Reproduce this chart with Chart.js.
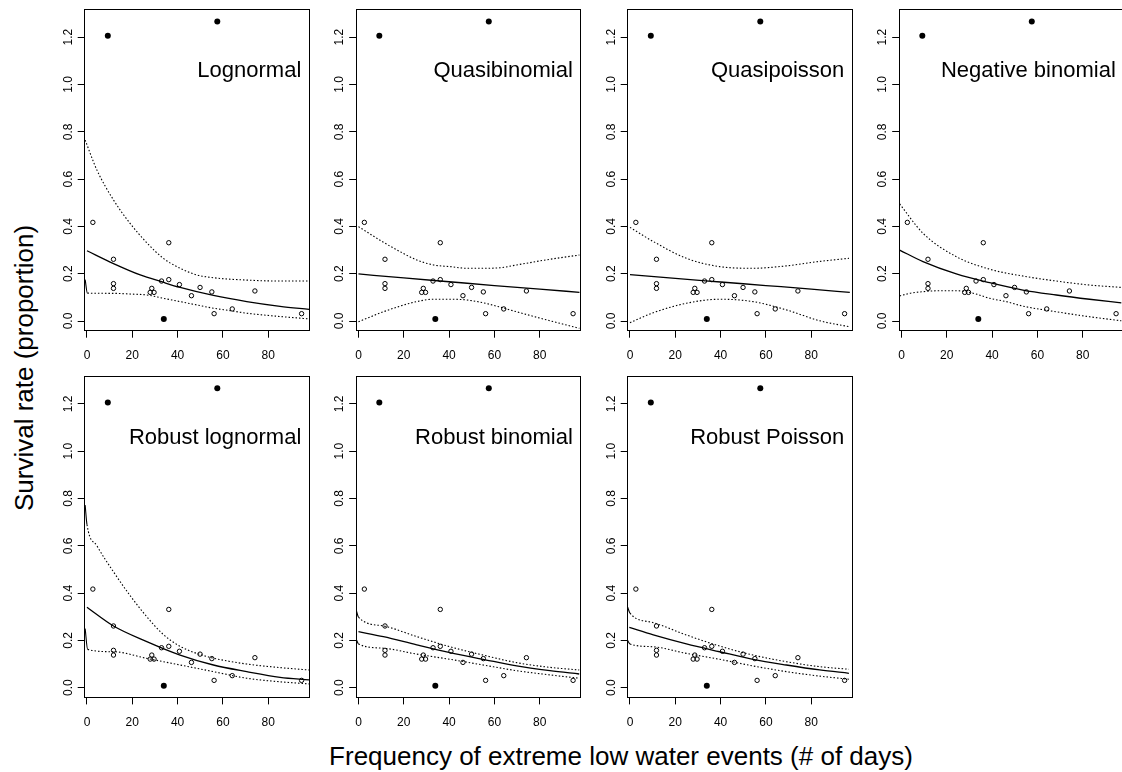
<!DOCTYPE html>
<html>
<head>
<meta charset="utf-8">
<title>Survival rate vs frequency of extreme low water events</title>
<script src="https://cdn.jsdelivr.net/npm/chart.js@4.4.1/dist/chart.umd.min.js"></script>
<style>
  html, body { margin: 0; padding: 0; background: #fff; }
  body { width: 1122px; height: 772px; overflow: hidden; position: relative;
         font-family: "Liberation Sans", Arial, sans-serif; color: #000; }
  canvas { position: absolute; }
  .axis-title { position: absolute; white-space: nowrap; font-size: 26px; line-height: 30px; }
  #xTitle { left: 621px; top: 741px; transform: translateX(-50%); }
  #yTitle { left: 24px; top: 368px; transform: translate(-50%, -50%) rotate(-90deg); }
</style>
</head>
<body>
<div id="xTitle" class="axis-title">Frequency of extreme low water events (# of days)</div>
<div id="yTitle" class="axis-title">Survival rate (proportion)</div>
<script>
// ---- observations (shared by every panel) ----
const obsDays     = [2.6, 11.7, 11.7, 11.7, 27.9, 28.6, 29.6, 32.9, 36.1, 36.1, 40.8, 46.1, 49.9, 55.1, 56.1, 64.1, 74.1, 94.7];
const obsSurvival = [0.417, 0.261, 0.158, 0.138, 0.121, 0.138, 0.121, 0.169, 0.331, 0.175, 0.154, 0.107, 0.142, 0.123, 0.031, 0.051, 0.127, 0.031];
const outlierDays     = [9.2, 57.5, 33.9];
const outlierSurvival = [1.206, 1.266, 0.008];

// ---- axes ----
const xTicks = [0, 20, 40, 60, 80];
const xTickLabels = ['0', '20', '40', '60', '80'];
const yTicks = [0, 0.2, 0.4, 0.6, 0.8, 1.0, 1.2];
const yTickLabels = ['0.0', '0.2', '0.4', '0.6', '0.8', '1.0', '1.2'];
const xMin = -1.0, xMax = 98.1;
const yMin = -0.041, yMax = 1.318;

const panelTitles = ['Lognormal', 'Quasibinomial', 'Quasipoisson', 'Negative binomial',
                     'Robust lognormal', 'Robust binomial', 'Robust Poisson'];

// ---- fitted curves and confidence bands ----
// Lognormal
const lognormalFitDays   = [0, 11.7, 23.5, 32.9, 41.1, 55.8, 70.5, 85.2, 98.0];
const lognormalFit       = [0.297, 0.243, 0.195, 0.166, 0.142, 0.108, 0.082, 0.062, 0.049];
const lognormalUpperDays = [-0.8, 4.4, 11.7, 19.0, 26.4, 33.7, 41.1, 48.4, 55.8, 70.5, 85.2, 98.0];
const lognormalUpper     = [0.765, 0.638, 0.512, 0.413, 0.331, 0.265, 0.223, 0.195, 0.183, 0.173, 0.169, 0.169];
const lognormalLowerDays = [-0.8, 0.2, 11.7, 19.0, 26.4, 33.7, 41.1, 48.4, 55.8, 63.1, 70.5, 85.2, 98.0];
const lognormalLower     = [0.175, 0.118, 0.117, 0.114, 0.110, 0.096, 0.082, 0.068, 0.054, 0.044, 0.033, 0.019, 0.009];

// Quasibinomial
const quasibinFitDays  = [0, 20, 40, 60, 80, 97.5];
const quasibinFit      = [0.199, 0.182, 0.166, 0.150, 0.135, 0.121];
const quasibinBandDays = [0, 11.0, 18.4, 25.7, 33.1, 40.4, 47.7, 55.0, 62.4, 69.8, 84.5, 97.5];
const quasibinUpper    = [0.399, 0.333, 0.293, 0.258, 0.237, 0.230, 0.223, 0.223, 0.225, 0.237, 0.261, 0.279];
const quasibinLower    = [-0.003, 0.039, 0.063, 0.082, 0.092, 0.092, 0.089, 0.077, 0.059, 0.039, 0.001, -0.031];

// Quasipoisson
const quasipoisFitDays  = [0, 20, 40, 60, 80, 97.0];
const quasipoisFit      = [0.196, 0.180, 0.165, 0.150, 0.135, 0.121];
const quasipoisBandDays = [0, 10.3, 24.9, 39.6, 54.3, 69.0, 83.7, 96.6];
const quasipoisUpper    = [0.396, 0.336, 0.265, 0.230, 0.223, 0.233, 0.252, 0.265];
const quasipoisLower    = [-0.007, 0.035, 0.075, 0.092, 0.082, 0.047, 0.001, -0.024];

// Negative binomial
const negbinDays      = [-0.8, 9.5, 24.2, 38.9, 53.6, 68.3, 83.0, 97.0];
const negbinFit       = [0.300, 0.251, 0.199, 0.162, 0.131, 0.110, 0.092, 0.077];
const negbinUpper     = [0.495, 0.371, 0.272, 0.219, 0.190, 0.169, 0.152, 0.142];
const negbinLowerDays = [-0.8, 3.7, 9.5, 16.9, 24.2, 28.6, 33.0, 38.9, 46.2, 53.6, 68.3, 83.0, 97.0];
const negbinLower     = [0.106, 0.117, 0.124, 0.128, 0.128, 0.124, 0.114, 0.096, 0.082, 0.063, 0.039, 0.018, 0.001];

// Robust lognormal
const rlognormFitDays   = [0, 11.7, 26.4, 41.1, 55.8, 70.5, 85.2, 98.0];
const rlognormFit       = [0.340, 0.261, 0.195, 0.138, 0.096, 0.068, 0.044, 0.033];
const rlognormUpperDays = [-0.8, 0, 4.4, 11.7, 19.0, 26.4, 33.7, 41.1, 48.4, 55.8, 70.5, 85.2, 98.0];
const rlognormUpper     = [0.772, 0.690, 0.600, 0.490, 0.390, 0.300, 0.225, 0.175, 0.145, 0.125, 0.100, 0.085, 0.075];
const rlognormLowerDays = [-0.8, 0.3, 11.7, 26.4, 41.1, 55.8, 70.5, 85.2, 98.0];
const rlognormLower     = [0.250, 0.162, 0.152, 0.124, 0.096, 0.068, 0.040, 0.025, 0.016];

// Robust binomial
const rbinFitDays  = [0, 11.0, 25.7, 40.4, 55.0, 69.8, 84.5, 97.4];
const rbinFit      = [0.237, 0.216, 0.181, 0.148, 0.120, 0.092, 0.072, 0.058];
const rbinBandDays = [-1.0, 0, 11.0, 25.7, 40.4, 55.0, 69.8, 84.5, 97.4];
const rbinUpper    = [0.329, 0.298, 0.261, 0.216, 0.173, 0.138, 0.106, 0.086, 0.075];
const rbinLower    = [0.205, 0.185, 0.167, 0.142, 0.120, 0.096, 0.072, 0.054, 0.040];

// Robust Poisson
const rpoisFitDays  = [-0.3, 10.3, 24.9, 39.6, 54.3, 69.0, 83.7, 96.6];
const rpoisFit      = [0.255, 0.223, 0.185, 0.152, 0.120, 0.096, 0.075, 0.061];
const rpoisBandDays = [-1.0, 0, 10.3, 24.9, 39.6, 54.3, 69.0, 83.7, 96.6];
const rpoisUpper    = [0.340, 0.315, 0.275, 0.223, 0.176, 0.138, 0.110, 0.089, 0.078];
const rpoisLower    = [0.199, 0.185, 0.173, 0.145, 0.120, 0.092, 0.068, 0.049, 0.036];

// ---- panel definitions: [days, values] pairs for fit, upper and lower band ----
const panels = [
  { fit: [lognormalFitDays, lognormalFit], upper: [lognormalUpperDays, lognormalUpper], lower: [lognormalLowerDays, lognormalLower], solidLead: { upper: false, lower: true } },
  { fit: [quasibinFitDays, quasibinFit], upper: [quasibinBandDays, quasibinUpper], lower: [quasibinBandDays, quasibinLower], solidLead: { upper: false, lower: false } },
  { fit: [quasipoisFitDays, quasipoisFit], upper: [quasipoisBandDays, quasipoisUpper], lower: [quasipoisBandDays, quasipoisLower], solidLead: { upper: false, lower: false } },
  { fit: [negbinDays, negbinFit], upper: [negbinDays, negbinUpper], lower: [negbinLowerDays, negbinLower], solidLead: { upper: false, lower: false } },
  { fit: [rlognormFitDays, rlognormFit], upper: [rlognormUpperDays, rlognormUpper], lower: [rlognormLowerDays, rlognormLower], solidLead: { upper: true, lower: true } },
  { fit: [rbinFitDays, rbinFit], upper: [rbinBandDays, rbinUpper], lower: [rbinBandDays, rbinLower], solidLead: { upper: true, lower: true } },
  { fit: [rpoisFitDays, rpoisFit], upper: [rpoisBandDays, rpoisUpper], lower: [rpoisBandDays, rpoisLower], solidLead: { upper: true, lower: true } }
];

// ---- layout of the 2 x 4 grid of plot boxes ----
const BOX_LEFT0 = 84.7, BOX_STEP_X = 271.5;
const BOX_TOP0 = 9.3, BOX_STEP_Y = 366.7;
const BOX_W = 224.6, BOX_H = 321.4;
const AXIS_FONT = { family: '"Liberation Sans", Arial, sans-serif', size: 12 };
const DOT = [1.5, 2];

function toPoints(days, values) {
  return days.map((d, i) => ({ x: d, y: values[i] }));
}

// Writes the model name inside the top-right corner of the plot box
const panelLabel = {
  id: 'panelLabel',
  afterDatasetsDraw(chart, args, opts) {
    const { ctx, chartArea } = chart;
    ctx.save();
    ctx.font = '22px "Liberation Sans", Arial, sans-serif';
    ctx.fillStyle = '#000';
    ctx.textAlign = 'right';
    ctx.textBaseline = 'alphabetic';
    ctx.fillText(opts.text, chartArea.right - 8, chartArea.top + 68);
    ctx.restore();
  }
};

function bandDataset(pair, leadSolid) {
  return {
    data: toPoints(pair[0], pair[1]),
    showLine: true,
    borderColor: '#000',
    borderWidth: 1.1,
    borderDash: DOT,
    pointRadius: 0,
    pointHoverRadius: 0,
    cubicInterpolationMode: 'monotone',
    segment: leadSolid ? { borderDash: c => (c.p0DataIndex === 0 ? [] : DOT) } : undefined
  };
}

panels.forEach((p, i) => {
  const row = Math.floor(i / 4), col = i % 4;
  const boxLeft = BOX_LEFT0 + col * BOX_STEP_X;
  const boxTop = BOX_TOP0 + row * BOX_STEP_Y;
  const canvasLeft = Math.floor(boxLeft) - 50;
  const canvasTop = Math.floor(boxTop) - 5;
  const yAxisW = boxLeft - canvasLeft;
  const padTop = boxTop - canvasTop;
  const xAxisH = 40;
  const cw = Math.ceil(yAxisW + BOX_W + 6);
  const ch = Math.ceil(padTop + BOX_H + xAxisH + 2);
  const padRight = cw - yAxisW - BOX_W;
  const padBottom = ch - padTop - BOX_H - xAxisH;

  const canvas = document.createElement('canvas');
  canvas.width = cw; canvas.height = ch;
  canvas.style.left = canvasLeft + 'px';
  canvas.style.top = canvasTop + 'px';
  canvas.style.width = cw + 'px';
  canvas.style.height = ch + 'px';
  document.body.appendChild(canvas);

  new Chart(canvas, {
    type: 'scatter',
    data: {
      datasets: [
        { // observed survival
          data: toPoints(obsDays, obsSurvival),
          pointRadius: 2.2, pointBorderWidth: 1,
          pointBackgroundColor: 'rgba(0,0,0,0)', pointBorderColor: '#000',
          pointHoverRadius: 2.2
        },
        { // observations flagged as outliers
          data: toPoints(outlierDays, outlierSurvival),
          pointRadius: 3, pointBorderWidth: 0,
          pointBackgroundColor: '#000', pointBorderColor: '#000',
          pointHoverRadius: 3
        },
        { // fitted curve
          data: toPoints(p.fit[0], p.fit[1]),
          showLine: true, borderColor: '#000', borderWidth: 1.3,
          pointRadius: 0, pointHoverRadius: 0, cubicInterpolationMode: 'monotone'
        },
        bandDataset(p.upper, p.solidLead.upper),
        bandDataset(p.lower, p.solidLead.lower)
      ]
    },
    options: {
      responsive: false,
      animation: false,
      devicePixelRatio: 1,
      events: [],
      layout: { padding: { left: 0, top: padTop, right: padRight, bottom: padBottom } },
      plugins: {
        legend: { display: false },
        tooltip: { enabled: false },
        panelLabel: { text: panelTitles[i] }
      },
      scales: {
        x: {
          type: 'linear', position: 'bottom', min: xMin, max: xMax,
          afterBuildTicks: s => { s.ticks = xTicks.map(v => ({ value: v })); },
          afterFit: s => { s.height = xAxisH; s.paddingLeft = 0; s.paddingRight = 0; },
          ticks: { color: '#000', font: AXIS_FONT, padding: 11, maxRotation: 0, minRotation: 0,
                   callback: (v, idx) => xTickLabels[idx] },
          grid: { display: true, drawOnChartArea: false, drawTicks: true, tickLength: 7, color: '#000', lineWidth: 1 },
          border: { display: true, color: '#000', width: 1 }
        },
        y: {
          type: 'linear', position: 'left', min: yMin, max: yMax,
          afterBuildTicks: s => { s.ticks = yTicks.map(v => ({ value: v })); },
          afterFit: s => { s.width = yAxisW; s.paddingTop = 0; s.paddingBottom = 0; },
          ticks: { color: '#000', font: AXIS_FONT, padding: 1, minRotation: 90, maxRotation: 90,
                   crossAlign: 'center', callback: (v, idx) => yTickLabels[idx] },
          grid: { display: true, drawOnChartArea: false, drawTicks: true, tickLength: 7, color: '#000', lineWidth: 1 },
          border: { display: true, color: '#000', width: 1 }
        },
        xTop: {
          type: 'linear', position: 'top', min: xMin, max: xMax,
          afterFit: s => { s.height = 0; s.paddingLeft = 0; s.paddingRight = 0; },
          ticks: { display: false },
          grid: { display: false, drawTicks: false },
          border: { display: true, color: '#000', width: 1 }
        },
        yRight: {
          type: 'linear', position: 'right', min: yMin, max: yMax,
          afterFit: s => { s.width = 0; s.paddingTop = 0; s.paddingBottom = 0; },
          ticks: { display: false },
          grid: { display: false, drawTicks: false },
          border: { display: true, color: '#000', width: 1 }
        }
      }
    },
    plugins: [panelLabel]
  });
});
</script>
</body>
</html>
